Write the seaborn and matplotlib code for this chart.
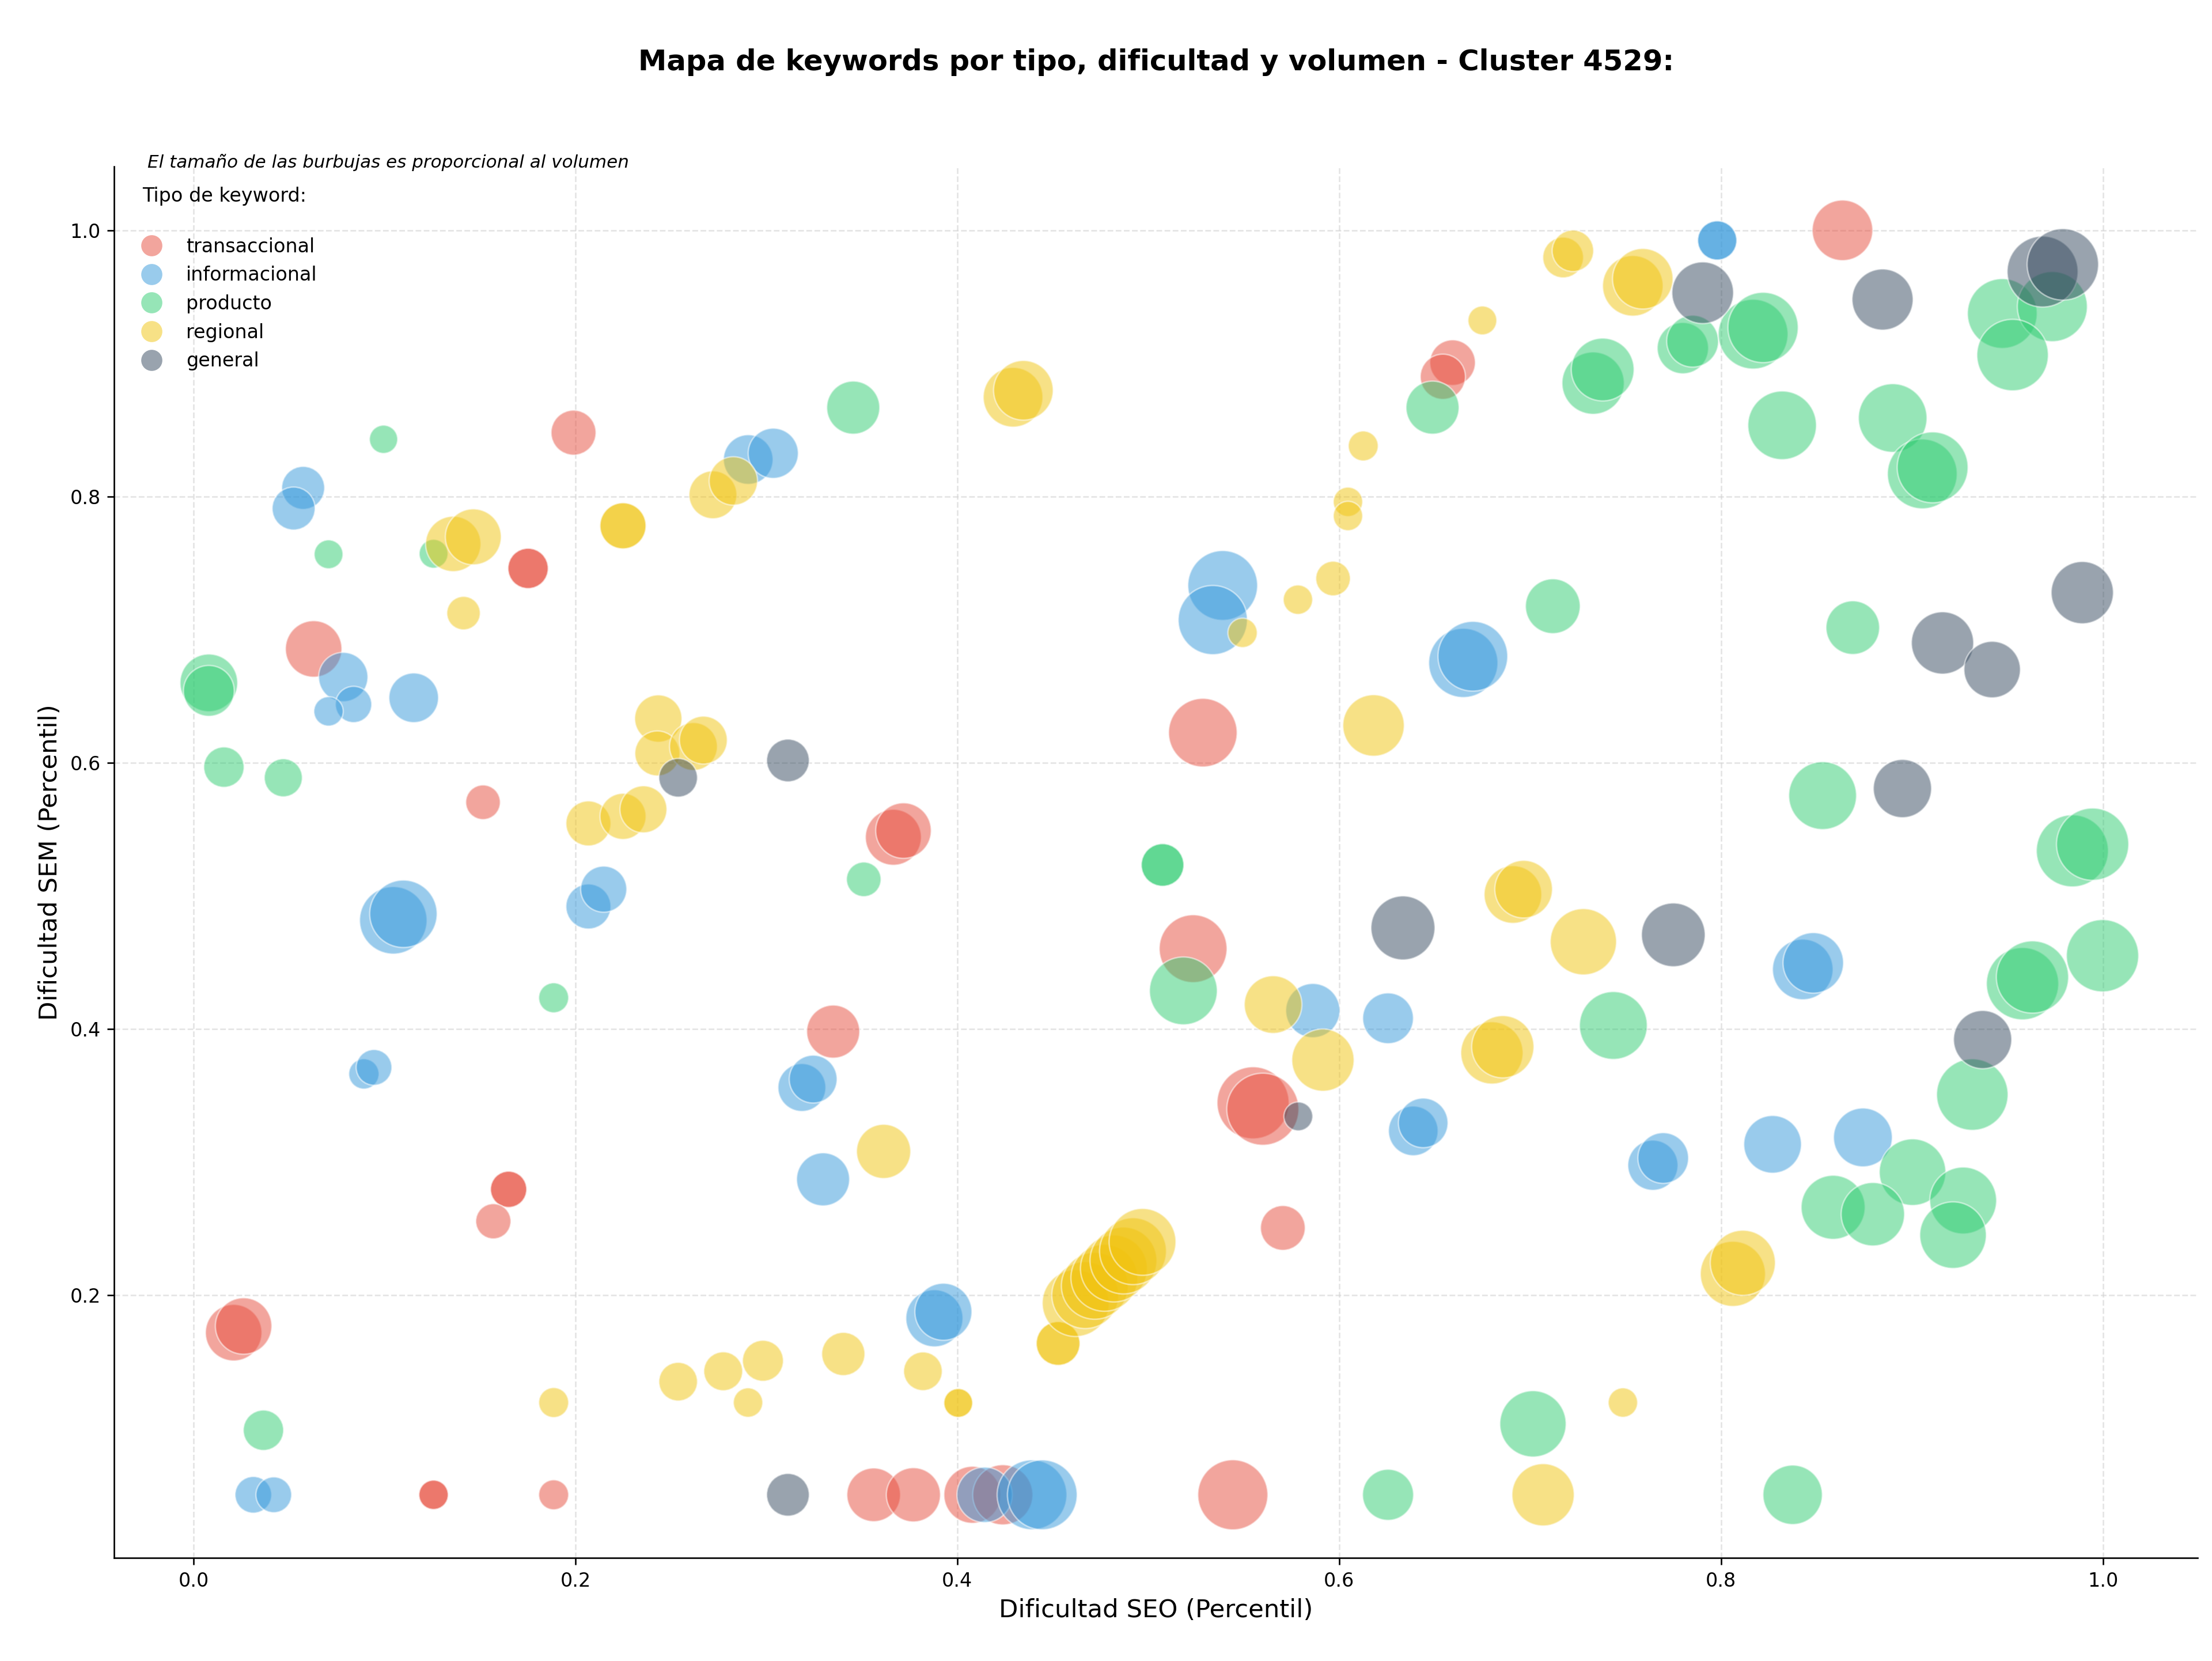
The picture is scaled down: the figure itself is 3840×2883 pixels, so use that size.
import numpy as np
import pandas as pd
import matplotlib
matplotlib.use("Agg")
import matplotlib.pyplot as plt
from matplotlib.lines import Line2D
import seaborn as sns

# --- datos (dificultad SEO, dificultad SEM, volumen) ---
seo_transaccional = [0.199, 0.1752, 0.1752, 0.0629, 0.1516, 0.6594, 0.6543, 0.8636, 0.5286, 0.3665,
                     0.3718, 0.5235, 0.335, 0.5549, 0.560, 0.5705, 0.165, 0.165, 0.157, 0.021,
                     0.0262, 0.1257, 0.1257, 0.1886, 0.3562, 0.377, 0.4079, 0.4238, 0.5443]
sem_transaccional = [0.848, 0.746, 0.746, 0.6855, 0.5703, 0.9006, 0.890, 1.0, 0.6226, 0.544,
                     0.549, 0.4603, 0.398, 0.3445, 0.3397, 0.2505, 0.2795, 0.2795, 0.2555, 0.1718,
                     0.1768, 0.05, 0.05, 0.05, 0.05, 0.05, 0.05, 0.05, 0.05]
vol_transaccional = [547, 441, 441, 864, 324, 562, 553, 993, 1274, 847,
                     836, 1245, 762, 1406, 1406, 542, 357, 357, 335, 864,
                     864, 234, 234, 243, 778, 795, 880, 980, 1329]

seo_informacional = [0.0574, 0.0524, 0.2905, 0.3036, 0.539, 0.5338, 0.798, 0.798, 0.665, 0.670,
                     0.0784, 0.0838, 0.0707, 0.1153, 0.1046, 0.1099, 0.2068, 0.2148, 0.0892, 0.0945,
                     0.3186, 0.3245, 0.3297, 0.388, 0.3927, 0.5862, 0.6256, 0.6388, 0.644, 0.8428,
                     0.8483, 0.7643, 0.7697, 0.827, 0.8743, 0.0313, 0.042, 0.4143, 0.4391, 0.4445]
sem_informacional = [0.8065, 0.791, 0.8278, 0.8325, 0.7332, 0.7072, 0.9924, 0.9924, 0.675, 0.680,
                     0.6644, 0.6438, 0.6386, 0.6488, 0.4816, 0.4865, 0.492, 0.505, 0.3662, 0.3711,
                     0.356, 0.3623, 0.287, 0.1826, 0.1875, 0.4138, 0.408, 0.3234, 0.3294, 0.4447,
                     0.4496, 0.2976, 0.303, 0.3133, 0.3185, 0.05, 0.05, 0.05, 0.05, 0.05]
vol_informacional = [500, 500, 666, 681, 1318, 1296, 416, 416, 1296, 1318,
                     658, 357, 234, 666, 1232, 1232, 548, 576, 248, 346,
                     620, 620, 762, 882, 882, 795, 697, 666, 666, 993,
                     993, 681, 697, 900, 936, 363, 346, 830, 1318, 1318]

seo_producto = [0.0995, 0.0707, 0.1257, 0.3455, 0.6489, 0.78, 0.7851, 0.8168, 0.822, 0.733,
                0.738, 0.832, 0.8899, 0.9054, 0.9108, 0.9473, 0.9735, 0.9527, 0.7119, 0.869,
                0.8532, 0.984, 0.9946, 0.9579, 0.9631, 0.9998, 0.7436, 0.9316, 0.008, 0.008,
                0.0159, 0.047, 0.351, 0.5075, 0.5075, 0.5184, 0.1886, 0.9003, 0.8587, 0.8795,
                0.9268, 0.9215, 0.7015, 0.0366, 0.6256, 0.8375]
sem_producto = [0.843, 0.7566, 0.757, 0.8668, 0.8668, 0.9115, 0.9167, 0.922, 0.927, 0.8852,
                0.8954, 0.8535, 0.859, 0.817, 0.8219, 0.9375, 0.9427, 0.9063, 0.7176, 0.7015,
                0.5753, 0.5338, 0.5388, 0.434, 0.439, 0.455, 0.4026, 0.3507, 0.660, 0.654,
                0.5967, 0.5887, 0.5124, 0.5232, 0.5232, 0.4286, 0.4234, 0.2924, 0.266, 0.2608,
                0.2711, 0.2451, 0.1033, 0.0985, 0.05, 0.05]
vol_producto = [216, 225, 225, 762, 762, 713, 729, 1318, 1340, 1050,
                1069, 1274, 1274, 1318, 1362, 1318, 1329, 1384, 812, 778,
                1245, 1406, 1415, 1415, 1415, 1415, 1245, 1384, 900, 700,
                441, 392, 324, 493, 493, 1245, 243, 1200, 1109, 1089,
                1211, 1200, 1190, 441, 706, 955]

seo_regional = [0.136, 0.1465, 0.2249, 0.2249, 0.1414, 0.272, 0.2827, 0.4292, 0.4346, 0.675,
                0.6126, 0.6046, 0.6046, 0.5968, 0.5784, 0.5494, 0.7173, 0.7224, 0.7538, 0.759,
                0.618, 0.2434, 0.2429, 0.2618, 0.267, 0.2068, 0.2249, 0.2356, 0.691, 0.6966,
                0.5654, 0.5915, 0.680, 0.6857, 0.7279, 0.3614, 0.3403, 0.382, 0.4005, 0.4005,
                0.4528, 0.4528, 0.462, 0.467, 0.472, 0.477, 0.482, 0.487, 0.492, 0.497,
                0.8062, 0.8114, 0.7486, 0.7068, 0.1886, 0.2538, 0.2774, 0.2982, 0.2904]
sem_regional = [0.7644, 0.7697, 0.778, 0.778, 0.7124, 0.8013, 0.8117, 0.8746, 0.8798, 0.9323,
                0.838, 0.796, 0.7854, 0.7384, 0.7225, 0.6976, 0.9796, 0.9846, 0.9583, 0.9636,
                0.628, 0.6332, 0.607, 0.6122, 0.617, 0.5544, 0.5597, 0.565, 0.501, 0.505,
                0.4183, 0.3766, 0.382, 0.3866, 0.4655, 0.308, 0.1558, 0.1428, 0.119, 0.119,
                0.1637, 0.1637, 0.194, 0.200, 0.207, 0.213, 0.220, 0.226, 0.233, 0.240,
                0.216, 0.2243, 0.1193, 0.05, 0.1193, 0.135, 0.1428, 0.1507, 0.1193]
vol_regional = [829, 847, 576, 576, 303, 620, 635, 964, 964, 225,
                243, 234, 234, 324, 234, 234, 449, 467, 993, 993,
                1023, 605, 548, 620, 620, 548, 576, 598, 900, 900,
                900, 1050, 1050, 1050, 1190, 795, 506, 404, 225, 225,
                520, 520, 1211, 1211, 1211, 1211, 1211, 1211, 1211, 1211,
                1149, 1149, 234, 1050, 243, 404, 409, 454, 234]

seo_general = [0.7904, 0.8846, 0.9684, 0.979, 0.9892, 0.916, 0.942, 0.895, 0.775, 0.937,
               0.6334, 0.2538, 0.3113, 0.5786, 0.3113]
sem_general = [0.9531, 0.948, 0.969, 0.9744, 0.7278, 0.690, 0.670, 0.5806, 0.4707, 0.392,
               0.4759, 0.5887, 0.6017, 0.3343, 0.05]
vol_general = [1030, 1011, 1362, 1384, 1050, 1050, 864, 918, 1099, 918,
               1109, 404, 493, 225, 493]

tipos = ["transaccional", "informacional", "producto", "regional", "general"]
colores = ["#e74c3c", "#3498db", "#2ecc71", "#f1c40f", "#34495e"]

frames = []
for tipo, seo, sem, vol in zip(
        tipos,
        [seo_transaccional, seo_informacional, seo_producto, seo_regional, seo_general],
        [sem_transaccional, sem_informacional, sem_producto, sem_regional, sem_general],
        [vol_transaccional, vol_informacional, vol_producto, vol_regional, vol_general]):
    frames.append(pd.DataFrame({"seo": seo, "sem": sem, "volumen": vol, "tipo": tipo}))
df = pd.concat(frames, ignore_index=True)

sns.set_style("ticks")
plt.rcParams["font.family"] = ["DejaVu Sans"]
plt.rcParams["font.size"] = 10
for k in ["text.color", "axes.labelcolor", "xtick.color", "ytick.color", "axes.edgecolor"]:
    plt.rcParams[k] = "black"

fig, ax = plt.subplots(figsize=(16, 12.0125), dpi=240)
fig.subplots_adjust(left=0.0516, right=0.9935, bottom=0.062, top=0.8998)

vmin, vmax = df["volumen"].min(), df["volumen"].max()
sns.scatterplot(data=df, x="seo", y="sem", hue="tipo", hue_order=tipos,
                palette=dict(zip(tipos, colores)), size="volumen",
                sizes=(vmin, vmax), size_norm=(vmin, vmax),
                alpha=0.5, edgecolor="white", linewidth=0.8, legend=False, ax=ax)

ax.set_xlim(-0.0416, 1.0496)
ax.set_ylim(0.0025, 1.048)
ax.grid(True, linestyle="--", color="lightgray", alpha=0.6, linewidth=0.8)
ax.set_axisbelow(True)
sns.despine(ax=ax)
ax.tick_params(labelsize=10)

ax.set_xlabel("Dificultad SEO (Percentil)", fontsize=13)
ax.set_ylabel("Dificultad SEM (Percentil)", fontsize=13)
ax.set_title("Mapa de keywords por tipo, dificultad y volumen - Cluster 4529:",
             fontsize=14.9, fontweight="bold", pad=50)

ax.text(0.016, 1.003, "El tamaño de las burbujas es proporcional al volumen",
        transform=ax.transAxes, fontsize=9.3, style="italic", va="center", ha="left")

handles = [Line2D([0], [0], marker="o", linestyle="", markersize=11,
                  markerfacecolor=c, markeredgecolor="none", alpha=0.5)
           for c in colores]
leg = ax.legend(handles, tipos, title="Tipo de keyword:\n", loc="upper left",
                bbox_to_anchor=(0.005, 0.991), borderaxespad=0, frameon=False,
                fontsize=10, title_fontsize=10, labelspacing=0.5)

fig.savefig("out.png", dpi=240)
